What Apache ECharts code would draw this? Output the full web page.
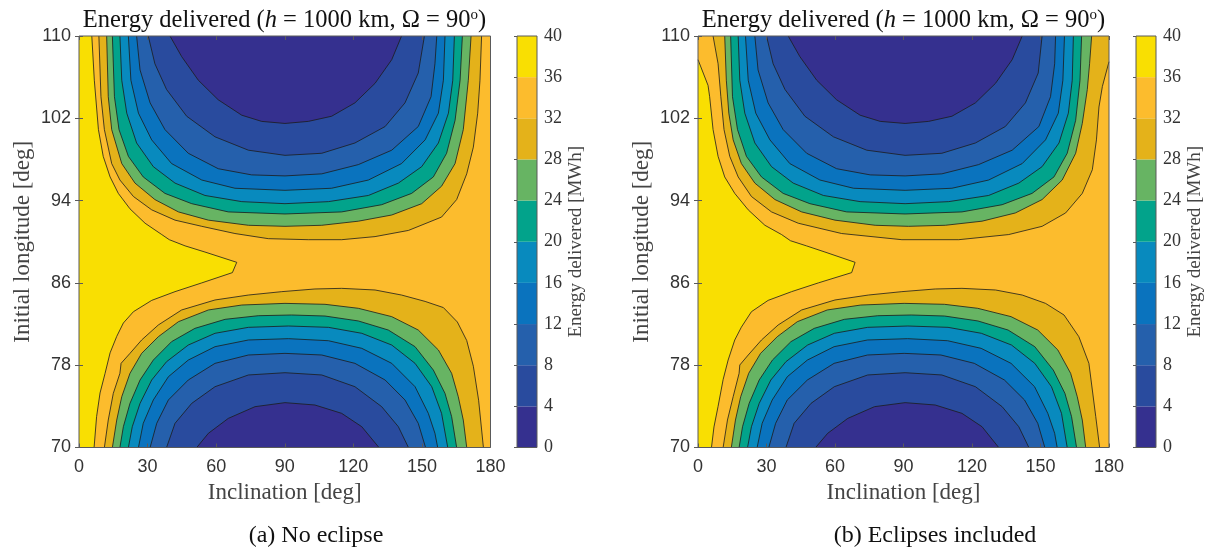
<!DOCTYPE html>
<html><head><meta charset="utf-8">
<script src="https://cdn.jsdelivr.net/npm/echarts@6/dist/echarts.min.js"></script>
<style>html,body{margin:0;padding:0;background:#fff}#c{width:1208px;height:547px}</style>
</head><body><div id="c"></div>
<script>
// ---------- axes / levels ----------
const incTicks = [0, 30, 60, 90, 120, 150, 180];
const lonTicks = [70, 78, 86, 94, 102, 110];
const levels = [0, 4, 8, 12, 16, 20, 24, 28, 32, 36, 40];
const bandColors = ['#35308F','#294B9E','#2560AC','#0A73BE','#088ABE','#02A38B','#67B463','#E4B21A','#FCBC2D','#F9DF02'];

// ---------- (a) No eclipse : contour lines [inclination, longitude] ----------
const a_y36 = [[5.6,110],[6.7,105.7],[8.5,100.9],[10.6,98.3],[13.6,96.3],[17.2,94.7],[22.3,93.2],[28.9,91.8],[36.2,90.7],[39.5,90.2],[46.4,89.6],[55.1,89.0],[69.0,88.0],[67.1,87.0],[53.7,86.0],[42.0,85.15],[31.8,84.3],[23.8,83.2],[19.4,82.1],[16.5,80.8],[13.6,79.2],[11.4,77.2],[9.2,75.3],[7.7,73.0],[6.6,70]];
const a_t32 = [[8.7,110],[9.6,104.1],[11.1,100.9],[14.3,97.6],[17.9,96.0],[23.8,94.4],[31.8,93.1],[42.0,92.1],[53.7,91.5],[68.2,90.8],[82.8,90.3],[100.3,90.2],[114.9,90.2],[129.5,90.5],[144.1,91.1],[158.6,92.4],[165.2,94.1],[169.6,96.6],[172.5,99.2],[174.4,102.5],[175.4,105.7],[176.1,110]];
const a_t28 = [[12.1,110],[12.8,104.1],[14.3,100.9],[18.7,97.6],[24.5,95.7],[33.2,94.1],[43.5,92.9],[56.6,92.1],[74.1,91.6],[90.1,91.5],[106.2,91.6],[122.2,92.0],[136.8,92.6],[149.9,93.7],[158.6,95.4],[164.5,97.6],[168.1,100.9],[170.3,105.7],[171.5,110]];
const a_t24 = [[14.6,110],[15.5,104.1],[17.5,100.9],[21.6,98.3],[28.1,96.3],[37.6,94.7],[49.3,93.7],[65.3,92.9],[90.1,92.7],[114.9,92.9],[132.4,93.6],[145.5,94.7],[155.0,96.3],[160.8,98.6],[164.5,101.8],[166.7,105.7],[167.7,110]];
const a_t20 = [[17.9,110],[18.7,105.7],[20.9,102.5],[25.2,99.6],[32.5,97.3],[42.0,95.7],[55.1,94.5],[71.2,93.9],[90.1,93.7],[109.1,93.9],[126.6,94.5],[139.7,95.7],[149.9,97.3],[157.2,99.6],[161.6,102.5],[163.5,105.7],[164.2,110]];
const a_t16 = [[21.6,110],[22.7,105.7],[26.0,102.5],[31.8,99.9],[40.5,97.6],[53.7,96.0],[68.2,95.2],[90.1,95.0],[110.5,95.2],[126.6,96.0],[141.1,97.6],[151.4,99.9],[157.2,102.5],[159.4,105.7],[160.1,110]];
const a_t12 = [[25.2,110],[26.7,106.7],[31.1,103.5],[37.6,100.9],[47.8,98.6],[60.9,97.1],[75.5,96.5],[90.1,96.4],[106.2,96.6],[122.2,97.5],[136.8,98.9],[148.4,101.2],[154.0,104.1],[155.7,107.3],[156.5,110]];
const a_t8  = [[30.3,110],[33.2,107.3],[38.3,104.8],[47.1,102.2],[59.5,100.2],[74.1,98.9],[90.1,98.4],[106.2,98.6],[120.7,99.6],[133.9,101.2],[142.6,103.5],[148.4,106.4],[151.1,110]];
const a_t4  = [[39.8,110],[44.9,108.0],[52.2,105.7],[60.9,103.8],[71.2,102.3],[79.9,101.7],[90.1,101.5],[100.3,101.7],[110.5,102.2],[120.7,103.5],[129.5,105.4],[136.8,107.7],[141.1,110]];
const a_b32 = [[11.1,70],[12.8,72.67],[15.0,75.26],[17.9,77.21],[18.4,78.18],[22.3,79.15],[27.4,80.45],[34.7,81.91],[44.9,83.37],[59.5,84.34],[74.1,84.82],[88.7,85.15],[103.2,85.41],[114.9,85.47],[129.5,85.31],[141.1,84.82],[151.4,84.2],[159.4,83.6],[165.5,82.2],[169.6,80.4],[172.5,77.9],[174.8,74.6],[176.9,70]];
const a_b28 = [[14.6,70],[16.5,72.67],[18.7,74.94],[22.3,77.21],[27.4,79.15],[34.7,80.77],[43.5,82.23],[56.6,83.37],[71.2,83.85],[90.1,84.01],[107.6,83.92],[122.2,83.53],[136.8,82.72],[148.4,81.42],[157.2,79.48],[163.0,77.21],[165.9,74.94],[168.1,72.67],[169.6,70]];
const a_b24 = [[17.9,70],[19.4,72.02],[22.3,74.29],[26.7,76.56],[32.5,78.50],[40.5,80.29],[50.7,81.58],[63.9,82.46],[78.4,82.81],[93.0,82.88],[107.6,82.78],[122.2,82.30],[135.3,81.42],[147.0,79.80],[155.0,77.53],[160.1,75.26],[163.0,73.0],[165.2,70]];
const a_b20 = [[21.6,70],[23.3,72.02],[26.7,74.29],[31.8,76.56],[38.3,78.34],[47.8,79.96],[59.5,81.10],[74.1,81.68],[91.6,81.81],[109.1,81.68],[123.7,81.10],[136.8,79.96],[147.0,78.18],[154.3,75.91],[158.6,73.32],[161.3,70]];
const a_b16 = [[26.0,70],[28.1,72.35],[32.5,74.62],[39.1,76.88],[47.8,78.50],[59.5,79.80],[74.1,80.45],[91.6,80.58],[109.1,80.38],[123.7,79.64],[136.8,78.18],[147.0,75.91],[152.8,73.32],[155.7,71.38],[156.9,70]];
const a_b12 = [[31.1,70],[34.0,72.35],[39.1,74.62],[47.8,76.56],[59.5,78.18],[74.1,78.99],[90.1,79.15],[106.2,78.99],[120.7,78.18],[133.9,76.56],[142.6,74.62],[148.4,72.35],[151.6,70]];
const a_b8  = [[38.3,70],[42.0,72.35],[49.3,74.29],[59.5,75.91],[74.1,77.05],[90.1,77.27],[106.2,77.05],[120.7,75.91],[132.4,73.97],[139.7,72.02],[144.1,70]];
const a_b4  = [[51.5,70],[56.6,71.38],[65.3,72.83],[77.0,73.97],[90.1,74.36],[103.2,74.13],[114.9,73.32],[123.7,72.02],[131.2,70]];

// ---------- (b) Eclipses included ----------
const b_y36 = [[0,107.7],[4.4,105.2],[5.1,104.1],[6.6,100.9],[8.8,98.3],[11.7,96.3],[16.1,94.7],[22.0,93.1],[29.3,91.6],[36.6,90.7],[40.5,90.1],[47.5,89.6],[55.6,89.0],[68.8,88.0],[67.3,87.0],[52.7,86.0],[41.0,85.15],[30.7,84.3],[23.4,83.2],[19.0,81.7],[16.1,80.45],[13.2,78.5],[11.0,76.6],[8.8,74.0],[7.0,72.0],[5.9,70]];
const b_t32 = [[6.6,110],[8.8,107.3],[10.0,104.1],[11.4,100.9],[13.9,98.3],[17.6,96.3],[23.4,94.4],[32.2,92.9],[43.9,91.8],[62.9,90.8],[89.3,90.2],[114.2,90.2],[136.1,90.7],[150.7,91.5],[161.0,92.8],[168.3,94.7],[172.7,97.0],[174.5,99.9],[175.6,103.1],[177.1,105.1],[180,107.5]];
const b_t28 = [[11.7,110],[12.4,105.7],[13.5,102.5],[15.4,99.9],[19.0,97.6],[24.9,95.7],[33.7,94.1],[45.4,92.9],[60.0,92.1],[77.6,91.6],[92.2,91.5],[108.3,91.6],[124.4,92.0],[139.0,92.8],[150.7,94.1],[159.5,96.0],[165.4,98.6],[168.3,101.5],[170.5,104.8],[171.5,107.3],[172.4,110]];
const b_t24 = [[14.3,110],[15.1,104.1],[17.3,100.9],[21.2,98.3],[27.8,96.3],[37.3,94.7],[49.0,93.7],[65.1,92.9],[90.7,92.7],[115.6,92.9],[133.2,93.6],[146.3,94.7],[155.9,96.3],[161.7,98.6],[165.4,101.8],[167.3,105.7],[168.0,110]];
const b_t20 = [[17.6,110],[18.3,105.7],[20.5,102.5],[24.9,99.6],[32.2,97.3],[41.7,95.7],[54.9,94.5],[71.0,93.9],[90.7,93.7],[109.8,93.9],[127.3,94.5],[140.5,95.7],[150.7,97.3],[158.1,99.6],[162.2,102.5],[163.9,105.7],[164.4,110]];
const b_t16 = [[20.8,110],[22.0,105.7],[25.3,102.5],[31.5,99.9],[40.2,97.6],[53.4,96.0],[68.1,95.2],[90.7,95.0],[111.2,95.2],[127.3,96.0],[142.0,97.6],[152.2,99.9],[157.8,102.5],[159.8,105.7],[160.5,110]];
const b_t12 = [[24.9,110],[26.3,106.7],[30.7,103.5],[37.3,100.9],[47.6,98.6],[60.7,97.1],[75.4,96.5],[90.7,96.4],[106.8,96.6],[122.9,97.5],[137.6,98.9],[149.3,101.2],[154.4,104.1],[156.2,107.3],[156.6,110]];
const b_t8  = [[30.0,110],[32.9,107.3],[38.1,104.8],[46.8,102.2],[59.3,100.2],[73.9,98.9],[90.7,98.4],[106.8,98.6],[121.5,99.6],[134.6,101.2],[143.4,103.5],[149.0,106.4],[150.7,110]];
const b_t4  = [[39.5,110],[44.6,108.0],[52.0,105.7],[60.7,103.8],[71.0,102.3],[79.8,101.7],[90.7,101.5],[101.0,101.7],[111.2,102.2],[121.5,103.5],[130.3,105.4],[137.6,107.7],[142.0,110]];
const b_b32 = [[11.0,70],[12.9,72.67],[15.4,74.94],[18.0,77.21],[18.3,78.02],[22.0,78.99],[27.8,80.45],[35.1,81.91],[45.4,83.37],[60.0,84.34],[74.6,84.82],[89.3,85.15],[103.9,85.41],[115.6,85.47],[130.3,85.31],[142.0,84.82],[152.2,84.01],[160.3,82.88],[166.8,80.77],[171.2,78.18],[172.7,75.59],[174.2,73.0],[175.9,70]];
const b_b28 = [[14.6,70],[16.4,72.67],[18.7,74.94],[22.2,77.21],[27.4,79.15],[34.7,80.77],[43.5,82.23],[56.6,83.37],[71.3,83.85],[90.3,84.01],[107.9,83.92],[122.5,83.53],[137.1,82.72],[148.8,81.42],[157.6,79.48],[163.2,77.21],[166.1,74.94],[168.3,72.67],[169.8,70]];
const b_b24 = [[18.0,70],[19.5,72.02],[22.4,74.29],[26.8,76.56],[32.6,78.50],[40.7,80.29],[50.9,81.58],[64.1,82.46],[78.7,82.81],[93.4,82.88],[108.0,82.78],[122.6,82.30],[135.8,81.42],[147.5,79.80],[155.6,77.53],[160.7,75.26],[163.6,73.0],[165.8,70]];
const b_b20 = [[21.7,70],[23.4,72.02],[26.8,74.29],[31.9,76.56],[38.5,78.34],[48.0,79.96],[59.7,81.10],[74.3,81.68],[91.9,81.81],[109.5,81.68],[124.1,81.10],[137.3,79.96],[147.5,78.18],[154.8,75.91],[159.2,73.32],[161.7,70]];
const b_b16 = [[25.9,70],[28.1,72.35],[32.5,74.62],[39.1,76.88],[47.9,78.50],[59.6,79.80],[74.2,80.45],[91.8,80.58],[109.3,80.38],[124.0,79.64],[137.1,78.18],[147.4,75.91],[153.2,73.32],[156.2,71.38],[157.3,70]];
const b_b12 = [[31.0,70],[34.0,72.35],[39.1,74.62],[47.9,76.56],[59.6,78.18],[74.2,78.99],[90.3,79.15],[106.4,78.99],[121.0,78.18],[134.2,76.56],[143.0,74.62],[148.8,72.35],[151.9,70]];
const b_b8  = [[38.5,70],[42.1,72.35],[49.5,74.29],[59.7,75.91],[74.3,77.05],[90.7,77.27],[106.8,77.05],[121.5,75.91],[133.2,73.97],[140.5,72.02],[144.9,70]];
const b_b4  = [[51.5,70],[56.8,71.38],[65.6,72.83],[77.3,73.97],[90.7,74.36],[103.9,74.13],[115.6,73.32],[124.4,72.02],[131.7,70]];

// ---------- texts ----------
const titleText = 'Energy delivered ({i|h} = 1000 km, Ω = 90{s|o})';
const xName = 'Inclination [deg]';
const yName = 'Initial longitude [deg]';
const cbName = 'Energy delivered [MWh]';
const captions = ['(a) No eclipse', '(b) Eclipses included'];

// ---------- build ----------
const X0 = incTicks[0], X1 = incTicks[incTicks.length-1];
const Y0 = lonTicks[0], Y1 = lonTicks[lonTicks.length-1];
const CORNER = {TL:[X0,Y1], TR:[X1,Y1], BR:[X1,Y0], BL:[X0,Y0]};

function buildRegions(y36, close36, tops, topClose32, bots) {
  const r = [{pts: [], close: ['TL','TR','BR','BL'], band: 8}];
  r.push({pts: y36, close: close36, band: 9});
  tops.forEach((t, k) => r.push({pts: t, close: k === 0 ? topClose32 : [], band: 7 - k}));
  bots.forEach((t, k) => r.push({pts: t, close: [], band: 7 - k}));
  return r;
}
const regA = buildRegions(a_y36, ['BL','TL'], [a_t32,a_t28,a_t24,a_t20,a_t16,a_t12,a_t8,a_t4], [], [a_b32,a_b28,a_b24,a_b20,a_b16,a_b12,a_b8,a_b4]);
const regB = buildRegions(b_y36, ['BL'], [b_t32,b_t28,b_t24,b_t20,b_t16,b_t12,b_t8,b_t4], ['TR'], [b_b32,b_b28,b_b24,b_b20,b_b16,b_b12,b_b8,b_b4]);

function fillSeries(regions, xi, yi) {
  return {
    type: 'custom', coordinateSystem: 'cartesian2d', xAxisIndex: xi, yAxisIndex: yi,
    silent: true, z: 2, animation: false,
    data: regions.map((r, i) => [X0, Y0, i]), encode: {x: 0, y: 1},
    renderItem: (params, api) => {
      const r = regions[api.value(2)];
      const pts = r.pts.map(p => api.coord(p));
      r.close.forEach(k => pts.push(api.coord(CORNER[k])));
      return {type: 'polygon', shape: {points: pts}, style: {fill: bandColors[r.band], stroke: null}};
    }
  };
}
function lineSeries(regions, xi, yi) {
  const lines = regions.filter(r => r.pts.length);
  return {
    type: 'custom', coordinateSystem: 'cartesian2d', xAxisIndex: xi, yAxisIndex: yi,
    silent: true, z: 3, animation: false,
    data: lines.map((r, i) => [X0, Y0, i]), encode: {x: 0, y: 1},
    renderItem: (params, api) => {
      const r = lines[api.value(2)];
      return {type: 'polyline', shape: {points: r.pts.map(p => api.coord(p))},
        style: {fill: null, stroke: '#1c1c1c', lineWidth: 0.8}};
    }
  };
}
function barSeries(xi, yi) {
  return {
    type: 'custom', coordinateSystem: 'cartesian2d', xAxisIndex: xi, yAxisIndex: yi,
    silent: true, z: 2, animation: false,
    data: levels.slice(0, -1).map((v, i) => [0, v, i]), encode: {x: 0, y: 1},
    renderItem: (params, api) => {
      const i = api.value(2);
      const p0 = api.coord([0, levels[i]]), p1 = api.coord([1, levels[i+1]]);
      return {type: 'rect', shape: {x: p0[0], y: p1[1], width: p1[0]-p0[0], height: p0[1]-p1[1]},
        style: {fill: bandColors[i], stroke: null}};
    }
  };
}

const AX = '#5a5a5a';
const tickFont = {fontFamily: 'Liberation Sans', fontSize: 18, color: '#333'};
const serifName = {fontFamily: 'Liberation Serif', fontSize: 23, color: '#444'};

function plotX(g) {
  return [
    {gridIndex: g, type: 'value', min: X0, max: X1, interval: 30, position: 'bottom', z: 10,
     axisLine: {show: false}, axisTick: {show: true, inside: true, length: 4, lineStyle: {color: AX}},
     axisLabel: Object.assign({margin: 11}, tickFont), splitLine: {show: false},
     name: xName, nameLocation: 'middle', nameGap: 34, nameTextStyle: serifName},
    {gridIndex: g, type: 'value', min: X0, max: X1, interval: 30, position: 'top', z: 10,
     axisLine: {show: false}, axisTick: {show: true, inside: true, length: 4, lineStyle: {color: AX}},
     axisLabel: {show: false}, splitLine: {show: false}},
  ];
}
function plotY(g) {
  return [
    {gridIndex: g, type: 'value', min: Y0, max: Y1, interval: 8, position: 'left', z: 10,
     axisLine: {show: false}, axisTick: {show: true, inside: true, length: 4, lineStyle: {color: AX}},
     axisLabel: Object.assign({margin: 8}, tickFont), splitLine: {show: false},
     name: yName, nameLocation: 'middle', nameGap: 45, nameTextStyle: serifName},
    {gridIndex: g, type: 'value', min: Y0, max: Y1, interval: 8, position: 'right', z: 10,
     axisLine: {show: false}, axisTick: {show: true, inside: true, length: 4, lineStyle: {color: AX}},
     axisLabel: {show: false}, splitLine: {show: false}},
  ];
}
function cbX(g) { return {gridIndex: g, type: 'value', min: 0, max: 1, show: false}; }
function cbY(g) {
  return {gridIndex: g, type: 'value', min: levels[0], max: levels[levels.length-1], interval: 4, position: 'right', z: 10,
    axisLine: {show: false}, axisTick: {show: true, inside: true, length: 3, lineStyle: {color: AX}},
    axisLabel: {margin: 7, fontFamily: 'Liberation Serif', fontSize: 18, color: '#333'}, splitLine: {show: false},
    name: cbName, nameLocation: 'middle', nameRotate: 90, nameGap: 30,
    nameTextStyle: {fontFamily: 'Liberation Serif', fontSize: 19, color: '#444'}};
}

const gridStyle = {show: true, borderColor: AX, borderWidth: 1, backgroundColor: 'transparent', z: 5};
const titleRich = {
  i: {fontFamily: 'Liberation Serif', fontStyle: 'italic', fontSize: 24.5, color: '#111'},
  s: {fontFamily: 'Liberation Serif', fontSize: 15, color: '#111', verticalAlign: 'top'}
};
function mkTitle(cx, text, top, size) {
  return {text: text, left: cx, top: top, textAlign: 'center',
    textStyle: {fontFamily: 'Liberation Serif', fontSize: size, fontWeight: 'normal', color: '#111', rich: titleRich}};
}

const chart = echarts.init(document.getElementById('c'), null, {renderer: 'canvas'});
chart.setOption({
  animation: false,
  backgroundColor: '#fff',
  title: [mkTitle(279.5, titleText, 3, 24.5), mkTitle(898.5, titleText, 3, 24.5),
          mkTitle(311, captions[0], 519, 24), mkTitle(930, captions[1], 519, 24)],
  grid: [
    Object.assign({left: 79, top: 36, width: 411.5, height: 411.5}, gridStyle),
    Object.assign({left: 517, top: 36, width: 20, height: 411.5}, gridStyle),
    Object.assign({left: 698, top: 36, width: 411, height: 411.5}, gridStyle),
    Object.assign({left: 1136, top: 36, width: 20, height: 411.5}, gridStyle)
  ],
  xAxis: [...plotX(0), cbX(1), ...plotX(2), cbX(3)],
  yAxis: [...plotY(0), cbY(1), ...plotY(2), cbY(3)],
  series: [
    fillSeries(regA, 0, 0), lineSeries(regA, 0, 0), barSeries(2, 2),
    fillSeries(regB, 3, 3), lineSeries(regB, 3, 3), barSeries(5, 5)
  ]
});
</script></body></html>
